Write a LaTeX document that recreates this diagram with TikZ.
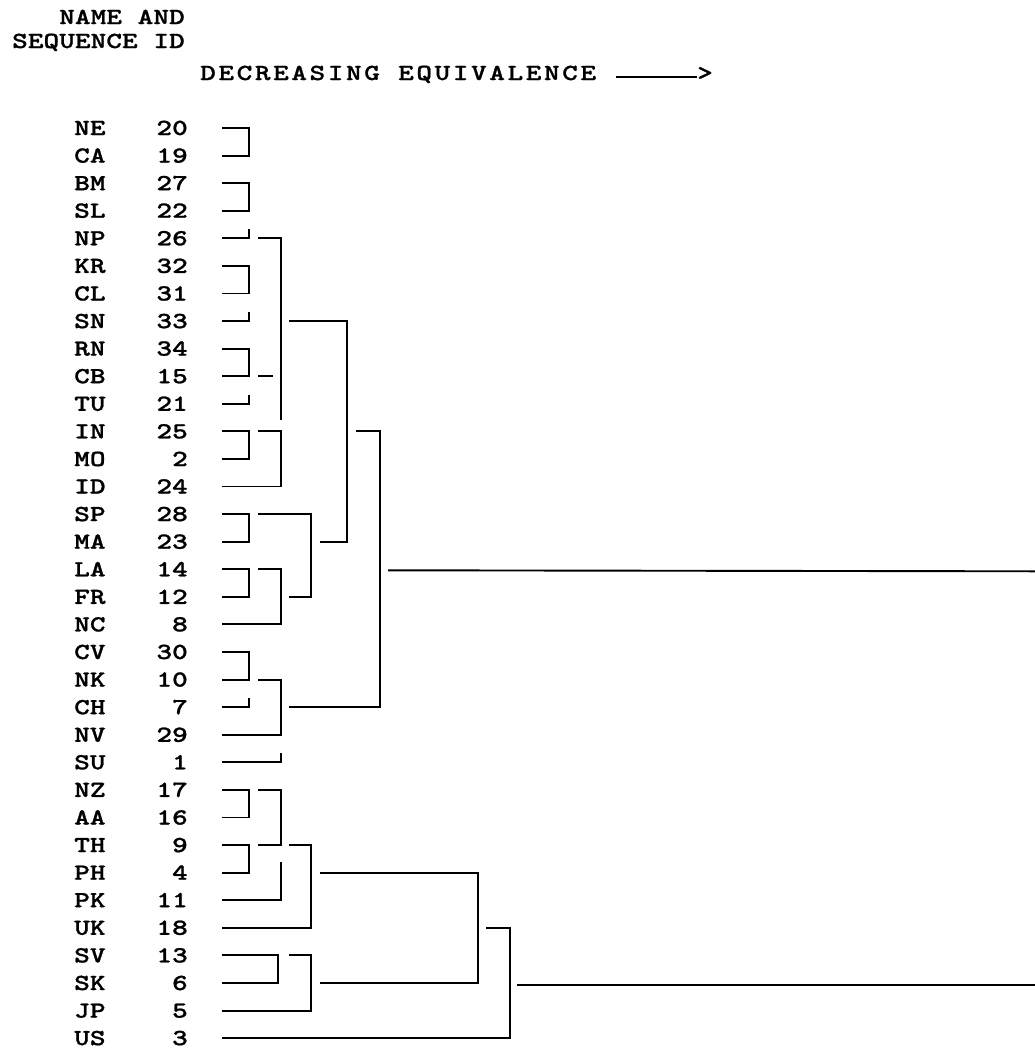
\documentclass[tikz,border=0pt]{standalone}
\usepackage{fontspec}
\newfontfamily\printfont[FakeStretch=1.3,FakeBold=1]{lmmonolt10-bold.otf}
\newfontfamily\titlefont[FakeStretch=1.3,FakeBold=1,LetterSpace=11]{lmmonolt10-bold.otf}
\usetikzlibrary{positioning}
\tikzset{
  tag/.style={anchor=west, inner sep=0pt, text height=14pt, text depth=0pt,
              font=\printfont\fontsize{23}{25}\selectfont},
  num/.style={tag, anchor=east},
  heading/.style={tag, font=\titlefont\fontsize{23}{25}\selectfont},
  tree/.style={draw=black, line width=1.9pt, line cap=butt, line join=miter}
}

\begin{document}
\begin{tikzpicture}[x=1pt, y=-1pt]
\useasboundingbox (0,0) rectangle (1035,1050);

% Header
\node[num] (headA) at (185,17) {NAME AND};
\node[num] (headB) at (185,41) {SEQUENCE ID};
\node[heading] (title) at (200,73) {DECREASING EQUIVALENCE};
\node[tag] (tip) at (697,73) {>};
\coordinate (dash) at ([xshift=20pt,yshift=-4pt]title.east);
\draw[tree, line width=1.6pt] (dash) -- (dash -| tip.west);

% Names and sequence ids
\node[tag] (NE) at (74,128) {NE};   \node[num] (idNE) at (188,128) {20};
\node[tag] (CA) at (74,155.6) {CA}; \node[num] (idCA) at (188,155.6) {19};
\node[tag] (BM) at (74,183.2) {BM}; \node[num] (idBM) at (188,183.2) {27};
\node[tag] (SL) at (74,210.7) {SL}; \node[num] (idSL) at (188,210.7) {22};
\node[tag] (NP) at (74,238.3) {NP}; \node[num] (idNP) at (188,238.3) {26};
\node[tag] (KR) at (74,265.9) {KR}; \node[num] (idKR) at (188,265.9) {32};
\node[tag] (CL) at (74,293.5) {CL}; \node[num] (idCL) at (188,293.5) {31};
\node[tag] (SN) at (74,321.1) {SN}; \node[num] (idSN) at (188,321.1) {33};
\node[tag] (RN) at (74,348.6) {RN}; \node[num] (idRN) at (188,348.6) {34};
\node[tag] (CB) at (74,376.2) {CB}; \node[num] (idCB) at (188,376.2) {15};
\node[tag] (TU) at (74,403.8) {TU}; \node[num] (idTU) at (188,403.8) {21};
\node[tag] (IN) at (74,431.4) {IN}; \node[num] (idIN) at (188,431.4) {25};
\node[tag] (MO) at (74,459) {MO};   \node[num] (idMO) at (188,459) {2};
\node[tag] (ID) at (74,486.5) {ID}; \node[num] (idID) at (188,486.5) {24};
\node[tag] (SP) at (74,514.1) {SP}; \node[num] (idSP) at (188,514.1) {28};
\node[tag] (MA) at (74,541.7) {MA}; \node[num] (idMA) at (188,541.7) {23};
\node[tag] (LA) at (74,569.3) {LA}; \node[num] (idLA) at (188,569.3) {14};
\node[tag] (FR) at (74,596.9) {FR}; \node[num] (idFR) at (188,596.9) {12};
\node[tag] (NC) at (74,624.4) {NC}; \node[num] (idNC) at (188,624.4) {8};
\node[tag] (CV) at (74,652) {CV};   \node[num] (idCV) at (188,652) {30};
\node[tag] (NK) at (74,679.6) {NK}; \node[num] (idNK) at (188,679.6) {10};
\node[tag] (CH) at (74,707.2) {CH}; \node[num] (idCH) at (188,707.2) {7};
\node[tag] (NV) at (74,734.8) {NV}; \node[num] (idNV) at (188,734.8) {29};
\node[tag] (SU) at (74,762.3) {SU}; \node[num] (idSU) at (188,762.3) {1};
\node[tag] (NZ) at (74,789.9) {NZ}; \node[num] (idNZ) at (188,789.9) {17};
\node[tag] (AA) at (74,817.5) {AA}; \node[num] (idAA) at (188,817.5) {16};
\node[tag] (TH) at (74,845.1) {TH}; \node[num] (idTH) at (188,845.1) {9};
\node[tag] (PH) at (74,872.7) {PH}; \node[num] (idPH) at (188,872.7) {4};
\node[tag] (PK) at (74,900.2) {PK}; \node[num] (idPK) at (188,900.2) {11};
\node[tag] (UK) at (74,927.8) {UK}; \node[num] (idUK) at (188,927.8) {18};
\node[tag] (SV) at (74,955.4) {SV}; \node[num] (idSV) at (188,955.4) {13};
\node[tag] (SK) at (74,983) {SK};   \node[num] (idSK) at (188,983) {6};
\node[tag] (JP) at (74,1010.6) {JP}; \node[num] (idJP) at (188,1010.6) {5};
\node[tag] (US) at (74,1038.1) {US}; \node[num] (idUS) at (188,1038.1) {3};

% Columns of the tree
\coordinate (xLeaf) at (222,0);
\coordinate (xPair) at (249,0);
\coordinate (xJoin) at (258,0);
\coordinate (xDash) at (273,0);
\coordinate (xPairB) at (278,0);
\coordinate (xTrio) at (281,0);
\coordinate (xQuadIn) at (289,0);
\coordinate (xQuad) at (311,0);
\coordinate (xMidIn) at (320,0);
\coordinate (xMid) at (347,0);
\coordinate (xTopIn) at (356,0);
\coordinate (xTop) at (380,0);
\coordinate (xRootA) at (388,0);
\coordinate (xLow) at (478,0);
\coordinate (xLowIn) at (486,0);
\coordinate (xUS) at (510,0);
\coordinate (xRootB) at (517,0);
\coordinate (xEnd) at (1035,0);

% Upper group
\draw[tree] (NE -| xLeaf) -- (NE -| xPair) -- (CA -| xPair) -- (CA -| xLeaf);
\draw[tree] (BM -| xLeaf) -- (BM -| xPair) -- (SL -| xPair) -- (SL -| xLeaf);
\draw[tree] (NP -| xLeaf) -- (NP -| xPair) -- ++(0,-9);
\draw[tree] (NP -| xJoin) -- (NP -| xTrio) -- (TU -| xTrio) -- ++(0,16);
\draw[tree] (KR -| xLeaf) -- (KR -| xPair) -- (CL -| xPair) -- (CL -| xLeaf);
\draw[tree] (SN -| xLeaf) -- (SN -| xPair) -- ++(0,-9);
\draw[tree] (SN -| xQuadIn) -- (SN -| xMid) -- (MA -| xMid) -- (MA -| xMidIn);
\draw[tree] (RN -| xLeaf) -- (RN -| xPair) -- (CB -| xPair) -- (CB -| xLeaf);
\draw[tree] (CB -| xJoin) -- (CB -| xDash);
\draw[tree] (TU -| xLeaf) -- (TU -| xPair) -- ++(0,-9);
\draw[tree] (IN -| xLeaf) -- (IN -| xPair) -- (MO -| xPair) -- (MO -| xLeaf);
\draw[tree] (IN -| xJoin) -- (IN -| xTrio) -- (ID -| xTrio) -- (ID -| xLeaf);
\draw[tree] (IN -| xTopIn) -- (IN -| xTop) -- (CH -| xTop) -- (CH -| xQuadIn);
\draw[tree] (SP -| xLeaf) -- (SP -| xPair) -- (MA -| xPair) -- (MA -| xLeaf);
\draw[tree] (SP -| xJoin) -- (SP -| xQuad) -- (FR -| xQuad) -- (FR -| xQuadIn);
\draw[tree] (LA -| xLeaf) -- (LA -| xPair) -- (FR -| xPair) -- (FR -| xLeaf);
\draw[tree] (LA -| xJoin) -- (LA -| xTrio) -- (NC -| xTrio) -- (NC -| xLeaf);
\draw[tree] (CV -| xLeaf) -- (CV -| xPair) -- (NK -| xPair) -- (NK -| xLeaf);
\draw[tree] (NK -| xJoin) -- (NK -| xTrio) -- (NV -| xTrio) -- (NV -| xLeaf);
\draw[tree] (CH -| xLeaf) -- (CH -| xPair) -- ++(0,-9);
\draw[tree] (SU -| xLeaf) -- (SU -| xTrio) -- ++(0,-9);
\draw[tree] ([yshift=-1pt]LA -| xRootA) -- ([yshift=-2pt]LA -| xEnd);

% Lower group
\draw[tree] (NZ -| xLeaf) -- (NZ -| xPair) -- (AA -| xPair) -- (AA -| xLeaf);
\draw[tree] (NZ -| xJoin) -- (NZ -| xTrio) -- (TH -| xTrio) -- (TH -| xJoin);
\draw[tree] (TH -| xLeaf) -- (TH -| xPair) -- (PH -| xPair) -- (PH -| xLeaf);
\draw[tree] (PK -| xLeaf) -- (PK -| xTrio) -- ++(0,-38);
\draw[tree] (TH -| xQuadIn) -- (TH -| xQuad) -- (UK -| xQuad) -- (UK -| xLeaf);
\draw[tree] (PH -| xMidIn) -- (PH -| xLow) -- (SK -| xLow) -- (SK -| xMidIn);
\draw[tree] (SV -| xLeaf) -- (SV -| xPairB) -- (SK -| xPairB) -- (SK -| xLeaf);
\draw[tree] (SV -| xQuadIn) -- (SV -| xQuad) -- (JP -| xQuad) -- (JP -| xLeaf);
\draw[tree] (UK -| xLowIn) -- (UK -| xUS) -- (US -| xUS) -- (US -| xLeaf);
\draw[tree] ([yshift=-2pt]SK -| xRootB) -- ([yshift=-2pt]SK -| xEnd);

\end{tikzpicture}
\end{document}
